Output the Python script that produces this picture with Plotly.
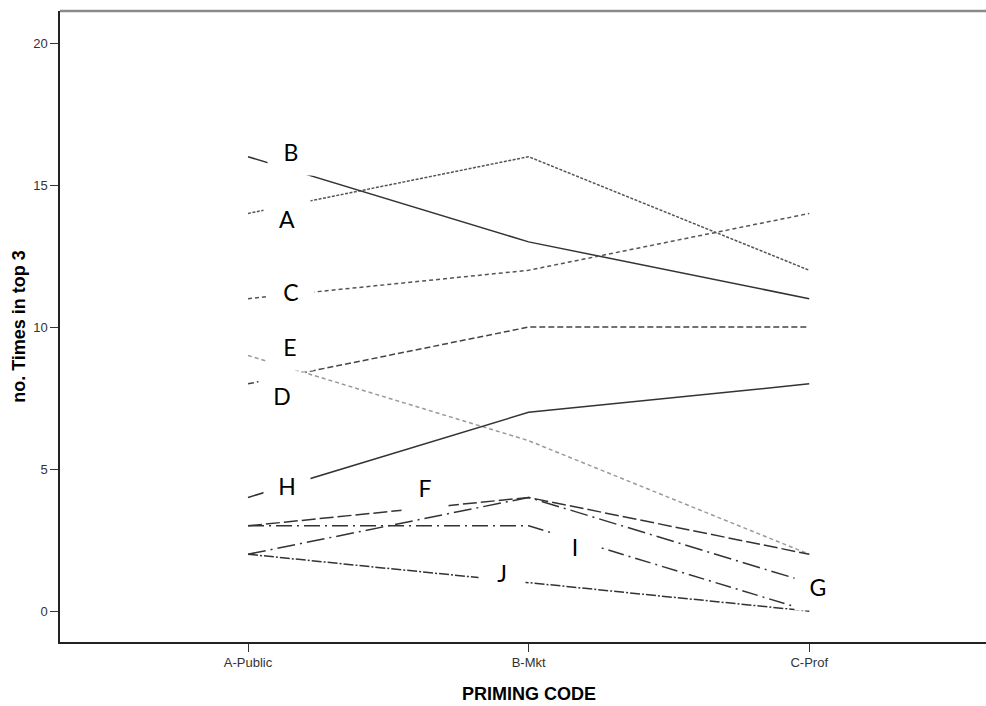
import plotly.graph_objects as go

categories = ["A-Public", "B-Mkt", "C-Prof"]
series_names = ["A", "B", "C", "D", "E", "F", "G", "H", "I", "J"]
A = [14, 16, 12]
B = [16, 13, 11]
C = [11, 12, 14]
D = [8, 10, 10]
E = [9, 6, 2]
F = [3, 4, 2]
G = [2, 4, 1]
H = [4, 7, 8]
I = [3, 3, 0]
J = [2, 1, 0]
y_ticks = [0, 5, 10, 15, 20]
x_title = "PRIMING CODE"
y_title = "no. Times in top 3"

values = {"A": A, "B": B, "C": C, "D": D, "E": E, "F": F, "G": G, "H": H, "I": I, "J": J}

styles = {
    "A": dict(color="#555555", dash="3px,1.5px"),
    "B": dict(color="#333333", dash="solid"),
    "C": dict(color="#555555", dash="4px,3px"),
    "D": dict(color="#444444", dash="6px,3px"),
    "E": dict(color="#9a9a9a", dash="4px,3px"),
    "F": dict(color="#333333", dash="14px,4px"),
    "G": dict(color="#333333", dash="18px,5px,2px,5px"),
    "H": dict(color="#333333", dash="solid"),
    "I": dict(color="#333333", dash="16px,5px,2px,5px"),
    "J": dict(color="#333333", dash="10px,2px,2px,2px"),
}

# label positions (category index, value) in data coordinates
label_pos = {
    "B": (0.153, 16.16), "A": (0.139, 13.80), "C": (0.153, 11.23),
    "E": (0.150, 9.30), "D": (0.121, 7.57), "H": (0.139, 4.40),
    "F": (0.63, 4.33), "I": (1.165, 2.24), "J": (0.905, 1.34),
    "G": (2.03, 0.85),
}

fig = go.Figure()
for name in series_names:
    st = styles[name]
    fig.add_trace(go.Scatter(
        x=categories, y=values[name], mode="lines", name=name,
        line=dict(color=st["color"], dash=st["dash"], width=1.5),
        showlegend=False, hoverinfo="skip",
    ))

for name in series_names:
    px_, py_ = label_pos[name]
    fig.add_annotation(
        x=px_, y=py_, xref="x", yref="y", text=name, showarrow=False,
        font=dict(family="Lato, Open Sans, sans-serif", size=23, color="#000000"),
        bgcolor="#ffffff", width=34, height=34, borderpad=6,
    )

# x-axis title centred under B-Mkt
fig.add_annotation(
    x=1, y=-0.083, xref="x", yref="paper", yanchor="middle", text="<b>" + x_title + "</b>",
    showarrow=False,
    font=dict(family="Liberation Sans, Arial, sans-serif", size=18, color="#000000"),
)
fig.add_annotation(
    x=-0.045, y=0.5, xref="paper", yref="paper", xanchor="center", textangle=-90,
    text="<b>" + y_title + "</b>", showarrow=False,
    font=dict(family="Liberation Sans, Arial, sans-serif", size=18, color="#000000"),
)
# top frame line
fig.add_shape(type="line", xref="paper", yref="paper", x0=0, x1=1, y0=1, y1=1,
              line=dict(color="#8a8a8a", width=2.5))

tick_font = dict(family="Liberation Sans Narrow, Arial Narrow, Liberation Sans, sans-serif",
                 size=13, color="#333333")
fig.update_layout(
    width=986, height=706,
    margin=dict(l=60, r=0, t=11, b=64),
    paper_bgcolor="#ffffff", plot_bgcolor="#ffffff",
    xaxis=dict(
        type="category", range=[-0.67, 2.63], showgrid=False, zeroline=False,
        showline=True, linecolor="#222222", linewidth=1.5,
        ticks="outside", ticklen=8, tickcolor="#333333", tickwidth=1,
        tickfont=tick_font,
    ),
    yaxis=dict(
        range=[-1.09, 21.13], tickvals=y_ticks, showgrid=False, zeroline=False,
        showline=True, linecolor="#222222", linewidth=1.5,
        ticks="outside", ticklen=8, tickcolor="#333333", tickwidth=1,
        tickfont=tick_font,
    ),
)
fig.write_html("out.html")
